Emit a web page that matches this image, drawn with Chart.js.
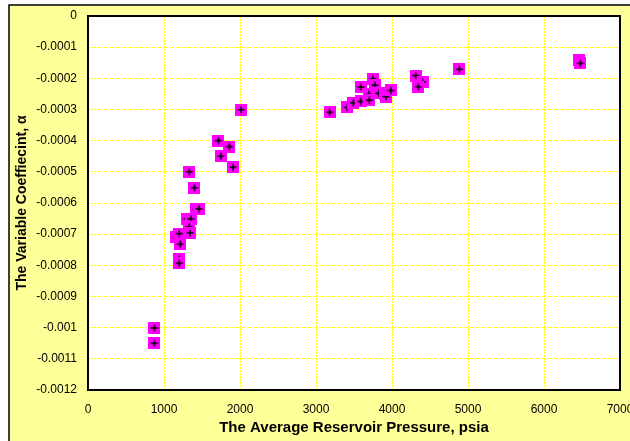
<!DOCTYPE html>
<html>
<head>
<meta charset="utf-8">
<script src="https://cdn.jsdelivr.net/npm/chart.js@4"></script>
<style>
  html, body { margin: 0; padding: 0; background: #fff; }
  #wrap { width: 630px; height: 441px; }
</style>
</head>
<body>
<div id="wrap"><canvas id="grafico"></canvas></div>
<script>
// pontos (psia, alpha)
const pressure = [873, 873, 1158, 1201, 1215, 1201, 1201, 1303, 1355, 1333, 1342, 1420, 1461, 1399, 1333,
  1715, 1860, 1746, 1908, 2013, 3180, 3412, 3491, 3588, 3588, 3697, 3701, 3750, 3776, 3825,
  3908, 3921, 3983, 4312, 4404, 4346, 4886, 6460, 6480];
const alpha = [-0.001001, -0.00105, -0.00071, -0.000698, -0.000732, -0.00078, -0.000793, -0.000651, -0.000651, -0.000677, -0.000696, -0.00062, -0.000619, -0.000551, -0.0005,
  -0.0004, -0.000419, -0.00045, -0.000485, -0.000301, -0.000309, -0.000293, -0.000278, -0.000274, -0.000228, -0.000251, -0.00027, -0.000201, -0.000222, -0.000248,
  -0.000251, -0.000259, -0.000239, -0.000191, -0.000212, -0.000227, -0.000171, -0.000142, -0.000152];

const xTicks = [0, 1000, 2000, 3000, 4000, 5000, 6000, 7000];
const yTicks = [0, -0.0001, -0.0002, -0.0003, -0.0004, -0.0005, -0.0006, -0.0007, -0.0008, -0.0009, -0.001, -0.0011, -0.0012];

// marcador: quadrado magenta com cruz preta
const marker = document.createElement("canvas");
marker.width = 12;
marker.height = 12;
const mctx = marker.getContext("2d");
mctx.fillStyle = "#FF00FF";
mctx.fillRect(0, 0, 12, 12);
mctx.strokeStyle = "#000";
mctx.lineWidth = 1.4;
mctx.beginPath();
mctx.moveTo(2.5, 6); mctx.lineTo(9.5, 6);
mctx.moveTo(6, 2.5); mctx.lineTo(6, 9.5);
mctx.stroke();

const fundo = {
  id: "fundo",
  beforeDraw(chart) {
    const { ctx, chartArea: a, width, height } = chart;
    ctx.save();
    ctx.fillStyle = "#fff";
    ctx.fillRect(0, 0, width, height);
    ctx.fillStyle = "#FFFF99";
    ctx.fillRect(9, 5, width - 9, height - 5);
    ctx.strokeStyle = "#000";
    ctx.lineWidth = 1.5;
    ctx.beginPath();
    ctx.moveTo(9, height);
    ctx.lineTo(9, 5);
    ctx.lineTo(width, 5);
    ctx.stroke();
    ctx.fillStyle = "#fff";
    ctx.fillRect(a.left, a.top, a.right - a.left, a.bottom - a.top);
    ctx.restore();
  },
  beforeDatasetsDraw(chart) {
    const { ctx, chartArea: a } = chart;
    ctx.save();
    ctx.strokeStyle = "#000";
    ctx.lineWidth = 2;
    ctx.strokeRect(a.left, a.top, a.right - a.left, a.bottom - a.top);
    ctx.restore();
  },
};

const fonte = { family: "'Liberation Sans', Arial, sans-serif", size: 12 };
const fonteTituloX = { family: "'Liberation Sans', Arial, sans-serif", size: 15, weight: "bold" };
const fonteTituloY = { family: "'Liberation Sans', Arial, sans-serif", size: 14, weight: "bold" };

new Chart(document.getElementById("grafico"), {
  type: "scatter",
  data: {
    datasets: [
      {
        data: pressure.map((p, i) => ({ x: p, y: alpha[i] })),
        pointStyle: marker,
        pointRadius: 6,
      },
    ],
  },
  options: {
    responsive: true,
    maintainAspectRatio: false,
    animation: false,
    devicePixelRatio: 1,
    layout: { padding: { top: 16, right: 10, left: 0, bottom: 0 } },
    plugins: {
      legend: { display: false },
      tooltip: { enabled: false },
    },
    scales: {
      x: {
        type: "linear",
        min: 0,
        max: 7000,
        afterBuildTicks: (s) => { s.ticks = xTicks.map((v) => ({ value: v })); },
        afterFit: (s) => { s.height = 51; s.paddingLeft = 0; s.paddingRight = 0; },
        ticks: { callback: (v) => String(v), font: fonte, color: "#000", padding: 12, maxRotation: 0, autoSkip: false },
        grid: { color: "#FFFF00", lineWidth: 1, drawTicks: false },
        border: { display: false, dash: [2, 1] },
        title: { display: true, text: "The Average Reservoir Pressure, psia", font: fonteTituloX, color: "#000", padding: { top: 4, bottom: 4 } },
      },
      y: {
        type: "linear",
        min: -0.0012,
        max: 0,
        afterBuildTicks: (s) => { s.ticks = yTicks.map((v) => ({ value: v })); },
        afterFit: (s) => { s.width = 88; s.paddingTop = 0; s.paddingBottom = 0; },
        ticks: { callback: (v) => String(Number(v.toFixed(4))), font: fonte, color: "#000", padding: 11, autoSkip: false },
        grid: { color: "#FFFF00", lineWidth: 1, drawTicks: false },
        border: { display: false, dash: [2, 1] },
        title: { display: true, text: "The Variable Coeffiecint, α", font: fonteTituloY, color: "#000", padding: { top: 14, bottom: 0 } },
      },
    },
  },
  plugins: [fundo],
});
</script>
</body>
</html>
